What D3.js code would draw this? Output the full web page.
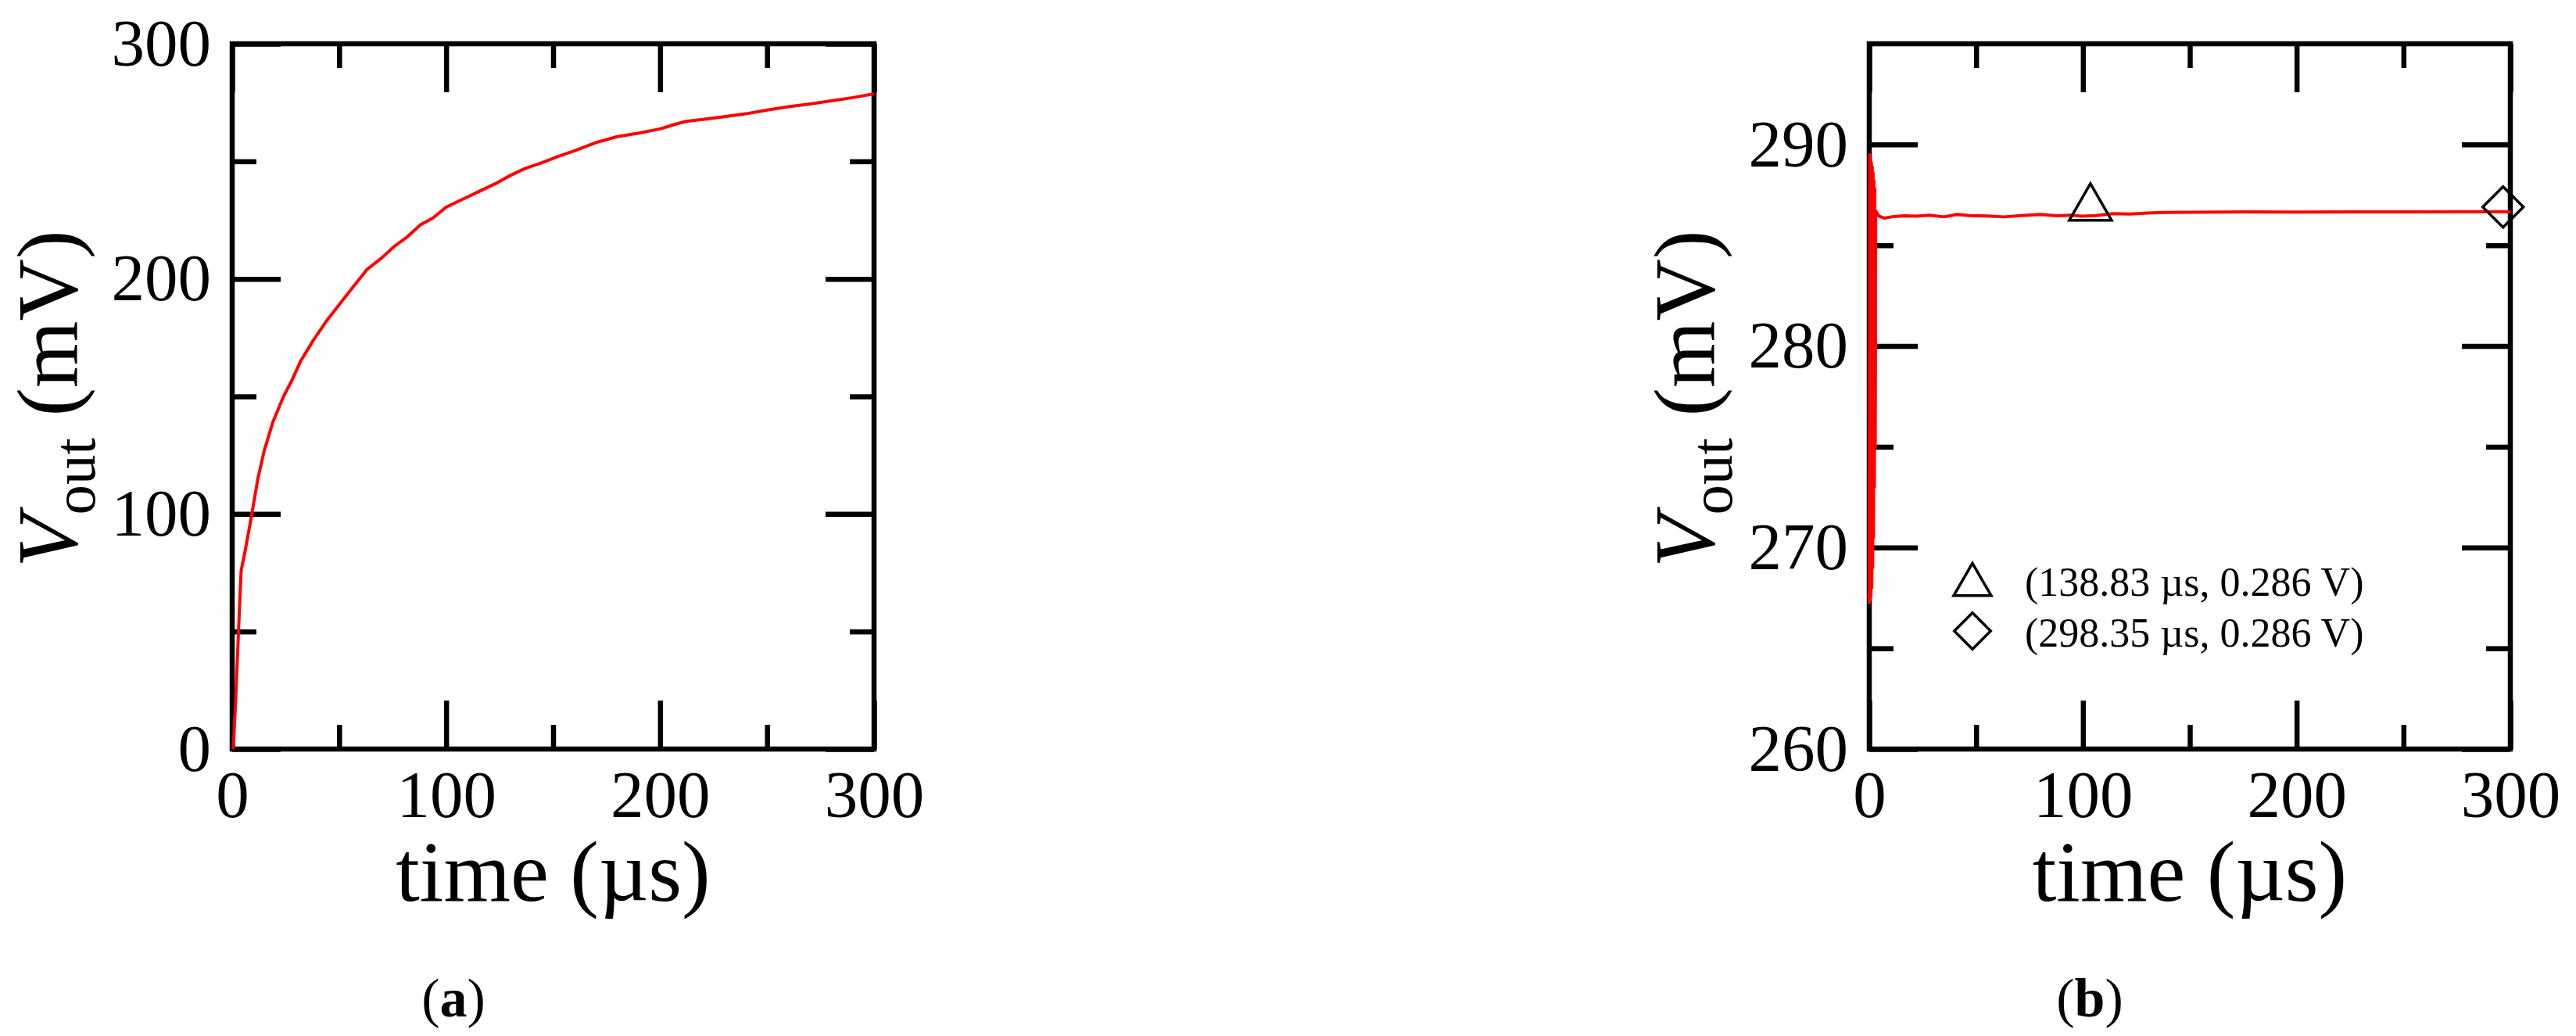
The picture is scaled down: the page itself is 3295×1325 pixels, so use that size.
<!DOCTYPE html>
<html>
<head>
<meta charset="utf-8">
<script src="https://cdn.jsdelivr.net/npm/d3@7"></script>
<style>
  html, body { margin: 0; padding: 0; background: #fff; }
  svg { display: block; }
  text { font-family: "Liberation Serif", "Times New Roman", serif; fill: #000; }
</style>
</head>
<body>
<div id="chart"></div>
<script>
// panel (a): output voltage while charging
const timeA = [0.5, 1.5, 2.5, 3.5, 4.2, 6, 9, 12, 15, 19, 24, 28, 32, 38, 44, 50, 56, 63, 70, 76,
  82, 88, 94, 100, 108, 115, 123, 130, 137, 145, 152, 160, 170, 180, 190, 200, 206, 212, 220, 230,
  240, 250, 260, 270, 280, 290, 300];
const voutA = [0, 18, 40, 62, 76, 84, 99, 115, 127, 139, 150, 157, 165, 174, 182, 189, 196, 204, 209, 214,
  218, 223, 226, 230.5, 234, 237, 240.5, 244, 247, 249.5, 252, 254.5, 258, 260.5, 262, 263.8, 265.5, 267, 267.8, 269,
  270.2, 271.8, 273.2, 274.4, 275.7, 277.1, 278.7];

// panel (b): zoom on the settled value
const timeB = [0, 0.2, 0.4, 0.6, 0.8, 1.0, 1.2, 1.4, 1.6, 1.8, 2.0, 2.2, 2.4, 2.6, 2.8, 3.0, 4.5, 7, 11, 16.7,
  22, 28, 35, 41, 47, 55, 63, 71, 80, 88, 94, 99.6, 106, 114, 122, 130, 137.5, 150, 175, 200,
  225, 250, 275, 300];
const voutB = [267.2, 289.5, 267.4, 289.3, 267.6, 289.1, 268.0, 288.9, 269.0, 288.6, 270.5, 288.2, 273.0, 287.8, 275.0, 286.7, 286.45, 286.35, 286.42, 286.46,
  286.44, 286.49, 286.41, 286.53, 286.47, 286.45, 286.41, 286.47, 286.53, 286.46, 286.49, 286.44, 286.47, 286.57, 286.55, 286.6, 286.63, 286.64, 286.66, 286.65,
  286.66, 286.66, 286.67, 286.67];

const markerTime = [103.5, 296.6];
const markerVout = [286.85, 286.9];
const markerShape = ["triangle", "diamond"];
const legendLabels = ["(138.83 µs, 0.286 V)", "(298.35 µs, 0.286 V)"];

const xTicks = [0, 100, 200, 300];
const xMinor = [50, 150, 250];
const yTicksA = [0, 100, 200, 300];
const yMinorA = [50, 150, 250];
const yTicksB = [260, 270, 280, 290];
const yMinorB = [265, 275, 285];

const W = 3295, H = 1325;
const svg = d3.select("#chart").append("svg")
    .attr("width", W)
    .attr("height", H)
    .attr("viewBox", [0, 0, W, H]);
svg.append("rect").attr("width", W).attr("height", H).attr("fill", "#fff");

const tickFont = 85, titleFont = 110;
const major = 62, minor = 31, lw = 6.5;

function symbolPath(shape, size) {
  if (shape === "triangle") return d3.symbol(d3.symbolTriangle, size)();
  return d3.symbol(d3.symbolSquare, size)();
}

function panel(o) {
  const x = d3.scaleLinear().domain([0, 300]).range([o.left, o.right]);
  const y = d3.scaleLinear().domain(o.yDomain).range([958, 56]);
  const g = svg.append("g");

  // ticks on all four sides, pointing inwards
  const axes = [
    [d3.axisBottom(x).tickValues(xTicks).tickSize(-major).tickPadding(27), `translate(0,${y.range()[0]})`],
    [d3.axisBottom(x).tickValues(xMinor).tickSize(-minor).tickFormat(""), `translate(0,${y.range()[0]})`],
    [d3.axisTop(x).tickValues(xTicks).tickSize(-major).tickFormat(""), `translate(0,${y.range()[1]})`],
    [d3.axisTop(x).tickValues(xMinor).tickSize(-minor).tickFormat(""), `translate(0,${y.range()[1]})`],
    [d3.axisLeft(y).tickValues(o.yTicks).tickSize(-major).tickPadding(27), `translate(${o.left},0)`],
    [d3.axisLeft(y).tickValues(o.yMinor).tickSize(-minor).tickFormat(""), `translate(${o.left},0)`],
    [d3.axisRight(y).tickValues(o.yTicks).tickSize(-major).tickFormat(""), `translate(${o.right},0)`],
    [d3.axisRight(y).tickValues(o.yMinor).tickSize(-minor).tickFormat(""), `translate(${o.right},0)`]
  ];
  axes.forEach(([ax, tr]) => {
    const a = g.append("g").attr("transform", tr).call(ax);
    a.select(".domain").remove();
    a.selectAll("line").attr("stroke-width", lw);
    a.selectAll("text").attr("font-size", tickFont).attr("font-family", null);
  });

  g.append("rect")
      .attr("x", o.left).attr("y", 56)
      .attr("width", o.right - o.left).attr("height", 958 - 56)
      .attr("fill", "none").attr("stroke", "#000").attr("stroke-width", lw);

  g.append("path")
      .datum(o.time.map((t, i) => [t, o.vout[i]]))
      .attr("fill", "none")
      .attr("stroke", "#ff0000")
      .attr("stroke-width", 4)
      .attr("stroke-linejoin", "round")
      .attr("d", d3.line().x(d => x(d[0])).y(d => y(d[1])));

  // axis titles
  g.append("text")
      .attr("x", (o.left + o.right) / 2).attr("y", 1152)
      .attr("text-anchor", "middle").attr("font-size", titleFont)
      .text("time (µs)");

  const yt = g.append("text")
      .attr("transform", `translate(${o.left - 199},510) rotate(-90)`)
      .attr("text-anchor", "middle").attr("font-size", titleFont);
  yt.append("tspan").attr("font-style", "italic").text("V");
  yt.append("tspan").attr("font-size", 77).attr("dy", 23).text("out");
  yt.append("tspan").attr("dy", -23).text(" (mV)");

  const cap = g.append("text")
      .attr("x", o.capX).attr("y", 1300)
      .attr("text-anchor", "middle").attr("font-size", 70);
  cap.append("tspan").text("(");
  cap.append("tspan").attr("font-weight", "bold").text(o.cap);
  cap.append("tspan").text(")");

  return {x, y, g};
}

panel({left: 297, right: 1118, yDomain: [0, 300], yTicks: yTicksA, yMinor: yMinorA,
  time: timeA, vout: voutA, capX: 580, cap: "a"});

const pb = panel({left: 2391, right: 3211, yDomain: [260, 295], yTicks: yTicksB, yMinor: yMinorB,
  time: timeB, vout: voutB, capX: 2673, cap: "b"});

// markers on the trace of (b)
const sizes = {triangle: 1263, diamond: 1354};
pb.g.selectAll(".mark")
  .data(markerTime.map((t, i) => ({t, v: markerVout[i], s: markerShape[i]})))
  .join("path")
    .attr("d", d => symbolPath(d.s, sizes[d.s]))
    .attr("transform", d => `translate(${pb.x(d.t)},${pb.y(d.v)})` + (d.s === "diamond" ? " rotate(45)" : ""))
    .attr("fill", "none").attr("stroke", "#000").attr("stroke-width", 3.5);

// legend of (b)
const leg = pb.g.append("g");
legendLabels.forEach((lab, i) => {
  const cy = 742 + i * 65;
  const s = markerShape[i];
  leg.append("path")
      .attr("d", symbolPath(s, s === "triangle" ? 1000 : 1080))
      .attr("transform", `translate(2523,${s === "triangle" ? cy + 6 : cy})` + (s === "diamond" ? " rotate(45)" : ""))
      .attr("fill", "none").attr("stroke", "#000").attr("stroke-width", 3.5);
  leg.append("text")
      .attr("x", 2590).attr("y", cy + 20)
      .attr("font-size", 52)
      .text(lab);
});
</script>
</body>
</html>
